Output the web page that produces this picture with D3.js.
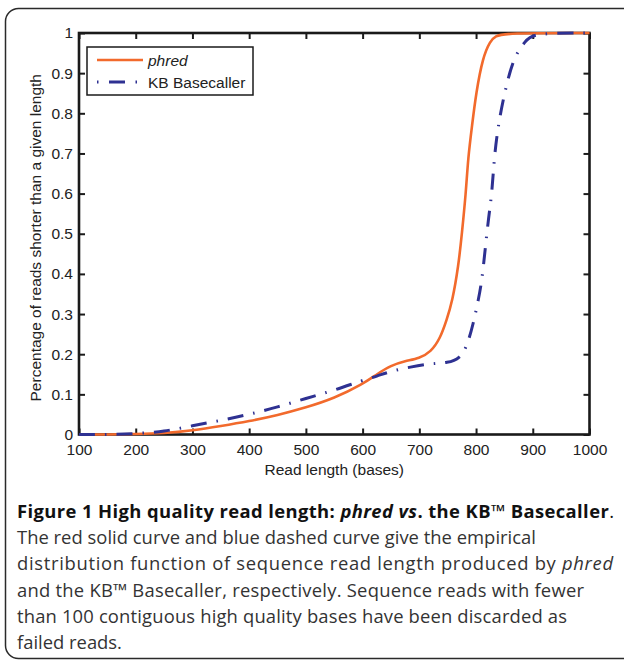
<!DOCTYPE html>
<html>
<head>
<meta charset="utf-8">
<script src="https://cdn.jsdelivr.net/npm/d3@7"></script>
<style>
    body { margin: 0; background: #fff; }
    svg { display: block; }
</style>
</head>
<body>
<div id="chart"></div>
<script>
// Read length values (bases) and cumulative share of reads
const phredLength = [100, 150, 200, 250, 300, 350, 400, 450, 500, 550, 600, 625, 650, 675, 700, 720, 737, 748, 758, 769, 775, 782, 786, 793, 800, 812, 825, 834, 851, 1000];
const phredShare  = [0, 0, 0.001, 0.003, 0.01, 0.021, 0.033, 0.048, 0.067, 0.09, 0.125, 0.15, 0.172, 0.183, 0.19, 0.205, 0.24, 0.285, 0.33, 0.42, 0.5, 0.6, 0.69, 0.77, 0.85, 0.94, 0.98, 0.992, 1, 1];

const kbLength = [100, 150, 200, 250, 300, 350, 400, 450, 500, 550, 600, 625, 650, 684, 720, 750, 772, 784, 795, 804, 810, 816, 822, 828, 832, 839, 850, 866, 887, 901, 1000];
const kbShare  = [0, 0, 0.002, 0.007, 0.022, 0.035, 0.05, 0.068, 0.09, 0.11, 0.135, 0.145, 0.158, 0.168, 0.177, 0.178, 0.19, 0.22, 0.275, 0.335, 0.38, 0.46, 0.54, 0.6, 0.69, 0.77, 0.85, 0.94, 0.98, 1, 1];

const xTicks = [100, 200, 300, 400, 500, 600, 700, 800, 900, 1000];
const yTicks = [0, 0.1, 0.2, 0.3, 0.4, 0.5, 0.6, 0.7, 0.8, 0.9, 1];

const seriesNames = ['phred', 'KB Basecaller'];

const captionLines = [
    [['Figure 1 High quality read length: ', 'bold', 'normal'], ['phred vs', 'bold', 'italic'], ['. the KB\u2122 Basecaller', 'bold', 'normal'], ['.', 'normal', 'normal']],
    [['The red solid curve and blue dashed curve give the empirical', 'normal', 'normal']],
    [['distribution function of sequence read length produced by ', 'normal', 'normal'], ['phred', 'normal', 'italic']],
    [['and the KB\u2122 Basecaller, respectively. Sequence reads with fewer', 'normal', 'normal']],
    [['than 100 contiguous high quality bases have been discarded as', 'normal', 'normal']],
    [['failed reads.', 'normal', 'normal']]
];

const W = 624, H = 662;
const plot = { left: 79, right: 589.5, top: 33, bottom: 434.5 };
const axisFont = 'Liberation Sans, Arial, sans-serif';
const orange = '#f26a2c';
const blue = '#2e3192';
// widths the caption lines fill in the figure (justified-looking block)
const captionFit = [597, 519, 596, 567, 550, null];

const svg = d3.select('#chart')
    .append('svg')
    .attr('width', W)
    .attr('height', H);

// Outer rounded frame
svg.append('rect')
    .attr('x', 5.5)
    .attr('y', 8.5)
    .attr('width', 660)
    .attr('height', 650)
    .attr('rx', 13)
    .attr('fill', 'none')
    .attr('stroke', '#2a2a2a')
    .attr('stroke-width', 1.5);

const x = d3.scaleLinear().domain([100, 1000]).range([plot.left, plot.right]);
const y = d3.scaleLinear().domain([0, 1]).range([plot.bottom, plot.top]);

const fmt = d3.format('~g');

function styleAxis(g) {
    g.select('.domain').remove();
    g.selectAll('.tick line').attr('stroke', '#1a1a1a').attr('stroke-width', 2);
    g.selectAll('.tick text')
        .attr('fill', '#222')
        .style('font-family', axisFont)
        .style('font-size', '15.5px');
}

svg.append('g')
    .attr('transform', `translate(0,${plot.bottom})`)
    .call(d3.axisBottom(x).tickValues(xTicks).tickSizeInner(-6).tickSizeOuter(0).tickPadding(9).tickFormat(fmt))
    .call(styleAxis);

svg.append('g')
    .attr('transform', `translate(${plot.left},0)`)
    .call(d3.axisLeft(y).tickValues(yTicks).tickSizeInner(-6).tickSizeOuter(0).tickPadding(6).tickFormat(fmt))
    .call(styleAxis);

svg.append('g')
    .attr('transform', `translate(0,${plot.top})`)
    .call(d3.axisTop(x).tickValues(xTicks).tickSizeInner(-6).tickSizeOuter(0).tickFormat(''))
    .call(styleAxis);

svg.append('g')
    .attr('transform', `translate(${plot.right},0)`)
    .call(d3.axisRight(y).tickValues(yTicks).tickSizeInner(-6).tickSizeOuter(0).tickFormat(''))
    .call(styleAxis);

// Axes box
svg.append('rect')
    .attr('x', plot.left)
    .attr('y', plot.top)
    .attr('width', plot.right - plot.left)
    .attr('height', plot.bottom - plot.top)
    .attr('fill', 'none')
    .attr('stroke', '#1a1a1a')
    .attr('stroke-width', 2.6);

// Axis titles
svg.append('text')
    .attr('x', (plot.left + plot.right) / 2)
    .attr('y', 475)
    .attr('text-anchor', 'middle')
    .attr('fill', '#222')
    .style('font-family', axisFont)
    .style('font-size', '15.5px')
    .text('Read length (bases)');

svg.append('text')
    .attr('transform', `translate(41,${(plot.top + plot.bottom) / 2 + 4}) rotate(-90)`)
    .attr('text-anchor', 'middle')
    .attr('fill', '#222')
    .style('font-family', axisFont)
    .style('font-size', '15.5px')
    .text('Percentage of reads shorter than a given length');

// Curves
const line = d3.line()
    .x(d => x(d[0]))
    .y(d => y(d[1]))
    .curve(d3.curveBasis);

const phredData = phredLength.map((v, i) => [v, phredShare[i]]);
const kbData = kbLength.map((v, i) => [v, kbShare[i]]);

svg.append('path')
    .datum(phredData)
    .attr('d', line)
    .attr('fill', 'none')
    .attr('stroke', orange)
    .attr('stroke-width', 2.6);

svg.append('path')
    .datum(kbData)
    .attr('d', line)
    .attr('fill', 'none')
    .attr('stroke', blue)
    .attr('stroke-width', 3)
    .attr('stroke-dasharray', '16,10,1.5,10');

// Legend
const legend = svg.append('g').attr('transform', 'translate(87,47)');
legend.append('rect')
    .attr('width', 166)
    .attr('height', 48)
    .attr('fill', '#fff')
    .attr('stroke', '#1a1a1a')
    .attr('stroke-width', 1.5);

const legendStyles = [
    { color: orange, width: 2.6, dash: null, italic: true },
    { color: blue, width: 3, dash: '1.5,10.5,16,10.5,1.5,100', italic: false }
];

seriesNames.forEach((name, i) => {
    const row = legend.append('g').attr('transform', `translate(0,${13 + i * 22})`);
    row.append('line')
        .attr('x1', 10)
        .attr('x2', 56)
        .attr('stroke', legendStyles[i].color)
        .attr('stroke-width', legendStyles[i].width)
        .attr('stroke-dasharray', legendStyles[i].dash);
    row.append('text')
        .attr('x', 61)
        .attr('y', 5.5)
        .attr('fill', '#222')
        .style('font-family', axisFont)
        .style('font-size', '15.5px')
        .style('font-style', legendStyles[i].italic ? 'italic' : 'normal')
        .text(name);
});

// Caption
const caption = svg.append('g');
captionLines.forEach((parts, i) => {
    const t = caption.append('text')
        .attr('x', 17)
        .attr('y', 518 + i * 26.2)
        .attr('fill', i === 0 ? '#111' : '#333')
        .style('font-family', 'Open Sans, sans-serif')
        .style('font-size', '18.4px');
    parts.forEach(([txt, weight, style]) => {
        t.append('tspan')
            .style('font-weight', weight === 'bold' ? 700 : 400)
            .style('font-style', style)
            .text(txt);
    });
    if (captionFit[i]) {
        t.attr('textLength', captionFit[i]).attr('lengthAdjust', 'spacing');
    }
});
</script>
</body>
</html>
